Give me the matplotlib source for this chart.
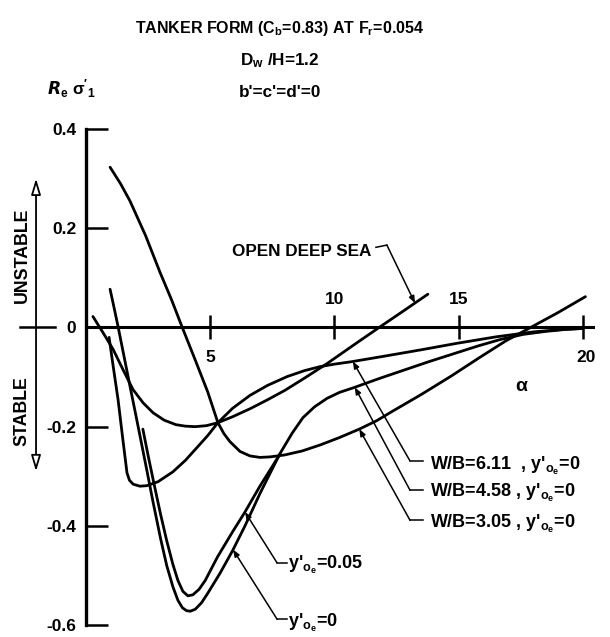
import matplotlib
matplotlib.use('Agg')
import matplotlib.pyplot as plt
import numpy as np

plt.rcParams['font.family'] = ['Liberation Sans', 'DejaVu Sans']
plt.rcParams['font.weight'] = 'bold'
plt.rcParams['font.size'] = 12.3
plt.rcParams['mathtext.default'] = 'regular'

# axis ticks
yticks = [0.4, 0.2, 0.0, -0.2, -0.4, -0.6]
ytick_labels = ['0.4', '0.2', '0', '-0.2', '-0.4', '-0.6']
xticks = [5, 10, 15, 20]
xtick_labels = ['5', '10', '15', '20']

# open deep sea
a_deep = [0.28, 0.68, 1.09, 1.5, 1.89, 2.3, 2.7, 3.15, 3.62, 4.0, 4.4, 4.85,
          5.31, 5.9, 6.6, 7.3, 8.0, 8.8, 9.7, 10.7, 11.8, 12.8, 13.76]
s_deep = [0.022, -0.010, -0.044, -0.086, -0.125, -0.152, -0.172, -0.187,
          -0.196, -0.199, -0.200, -0.198, -0.192, -0.180, -0.164, -0.146,
          -0.127, -0.102, -0.073, -0.038, 0.0, 0.034, 0.067]

# W/B = 6.11, y'oe = 0
a_611 = [0.93, 1.1, 1.29, 1.47, 1.65, 1.75, 1.9, 2.17, 2.45, 2.9, 3.5, 4.0,
         4.47, 4.9, 5.31, 5.9, 6.6, 7.3, 8.1, 8.8, 9.42, 10.0, 10.7, 12.0,
         13.5, 14.93, 16.5, 18.0, 19.2, 20.0]
s_611 = [-0.020, -0.080, -0.145, -0.220, -0.293, -0.308, -0.316, -0.320,
         -0.319, -0.311, -0.291, -0.268, -0.242, -0.218, -0.192, -0.163,
         -0.137, -0.117, -0.099, -0.087, -0.079, -0.074, -0.069, -0.058,
         -0.045, -0.032, -0.019, -0.009, -0.004, -0.002]

# W/B = 4.58, y'oe = 0
a_458 = [0.97, 1.13, 1.29, 1.53, 1.77, 2.0, 2.2, 2.45, 2.7, 3.0, 3.25, 3.5,
         3.7, 3.88, 4.05, 4.2, 4.4, 4.65, 4.9, 5.4, 5.9, 6.4, 7.0, 7.5, 7.8,
         8.3, 8.73, 9.2, 9.7, 10.2, 10.8, 11.8, 12.8, 13.8, 14.8, 15.8, 16.7,
         17.6, 18.5, 19.3, 20.0]
s_458 = [0.077, 0.040, 0.002, -0.058, -0.118, -0.175, -0.225, -0.288, -0.352,
         -0.425, -0.480, -0.523, -0.550, -0.565, -0.571, -0.572, -0.568,
         -0.555, -0.536, -0.495, -0.450, -0.400, -0.335, -0.285, -0.255,
         -0.213, -0.182, -0.160, -0.143, -0.131, -0.121, -0.103, -0.086,
         -0.069, -0.053, -0.037, -0.024, -0.014, -0.008, -0.004, -0.002]

# W/B = 4.58, y'oe = 0.05
a_458b = [2.29, 2.5, 2.75, 3.0, 3.25, 3.5, 3.7, 3.9, 4.1, 4.3, 4.55, 4.8,
          5.3, 5.9, 6.4, 7.0, 7.5, 7.8]
s_458b = [-0.205, -0.258, -0.318, -0.376, -0.430, -0.478, -0.510, -0.532,
          -0.541, -0.539, -0.528, -0.510, -0.462, -0.412, -0.372, -0.320,
          -0.280, -0.256]

# W/B = 3.05, y'oe = 0
a_305 = [0.97, 1.4, 1.77, 2.4, 2.98, 3.45, 3.86, 4.4, 4.9, 5.31, 5.55, 5.79,
         6.2, 6.6, 7.0, 7.4, 8.0, 8.7, 9.42, 10.2, 11.0, 11.7, 12.3, 13.5,
         14.7, 15.8, 16.9, 17.9, 19.0, 20.1]
s_305 = [0.323, 0.289, 0.255, 0.185, 0.111, 0.055, 0.002, -0.066, -0.130,
         -0.192, -0.214, -0.230, -0.250, -0.259, -0.262, -0.261, -0.257,
         -0.249, -0.237, -0.222, -0.205, -0.188, -0.170, -0.135, -0.098,
         -0.062, -0.027, 0.0, 0.030, 0.062]

fig = plt.figure(figsize=(6.1, 6.37), dpi=100)
ax = fig.add_axes([0, 0, 1, 1])
ax.set_xlim(-3.46, 21.09)
ax.set_ylim(-0.624, 0.660)

for s in ['top', 'right']:
    ax.spines[s].set_visible(False)
ax.spines['left'].set_position(('data', 0))
ax.spines['left'].set_bounds(-0.6, 0.4)
ax.spines['left'].set_linewidth(2.4)
ax.spines['bottom'].set_position(('data', 0))
ax.spines['bottom'].set_bounds(0, 20.4)
ax.spines['bottom'].set_linewidth(2.2)

ax.set_yticks(yticks, labels=ytick_labels)
ax.tick_params(axis='y', direction='in', length=15.8, width=1.8, pad=7,
               labelsize=12.5)
ax.set_xticks(xticks, labels=['' for t in xticks])
ax.tick_params(axis='x', direction='inout', length=17, width=1.8)

# x tick numbers sit above or below the axis
above = [False, True, True, False]
for t, lab, up in zip(xticks, xtick_labels, above):
    ax.text(t + (0.12 if t == 20 else 0), 0.0573 if up else -0.06, lab,
            ha='center', va='center', fontsize=12.5)
ax.text(17.5, -0.12, '\u03b1', ha='center', va='center', fontsize=14)

lw = 2.0
for a, s in [(a_deep, s_deep), (a_611, s_611), (a_458, s_458),
             (a_458b, s_458b), (a_305, s_305)]:
    ax.plot(a, s, color='black', lw=lw, solid_capstyle='round',
            solid_joinstyle='round')

# headings
ax.text(7.81, 0.593, 'TANKER FORM (C$_b$=0.83) AT F$_r$=0.054',
        ha='center', va='baseline', fontsize=11.5)
ax.text(7.81, 0.5286, 'D$_w$ /H=1.2', ha='center', va='baseline')
ax.text(7.81, 0.464, "b'=c'=d'=0", ha='center', va='baseline')
ax.text(-0.60, 0.470, r"$\mathit{R}_e$ $\sigma'_1$", ha='center',
        va='baseline')

# stability arrows on the left
arrow_kw = dict(arrowstyle='-|>,head_length=0.6,head_width=0.18', lw=1.3,
                fc='white', ec='black', mutation_scale=16,
                shrinkA=0, shrinkB=0)
ax.annotate('', xy=(-2.01, 0.30), xytext=(-2.01, 0.0), arrowprops=arrow_kw)
ax.annotate('', xy=(-2.01, -0.29), xytext=(-2.01, 0.0), arrowprops=arrow_kw)
ax.plot([-2.66, -1.25], [0, 0], color='black', lw=1.8)
ax.text(-2.56, 0.146, 'UNSTABLE', rotation=90, ha='center', va='center',
        fontsize=12.8)
ax.text(-2.58, -0.168, 'STABLE', rotation=90, ha='center', va='center',
        fontsize=12.8)

# labels with leader lines
lead_kw = dict(arrowstyle='-|>,head_length=0.5,head_width=0.2', lw=1.1,
               color='black', mutation_scale=8, shrinkA=0, shrinkB=0)


def leader(text, tx, ty, x0, x1, ly, xa, ca, sa):
    ya = np.interp(xa, ca, sa)
    ax.plot([x1, x0], [ly, ly], color='black', lw=1.1)
    ax.annotate('', xy=(xa, ya), xytext=(x0, ly), arrowprops=lead_kw)
    ax.text(tx, ty, text, ha='left', va='baseline', fontsize=13)


leader("W/B=6.11  , y$'_{o_e}$=0", 13.84, -0.287, 13.04, 13.56, -0.269,
       10.74, a_611, s_611)
leader("W/B=4.58 , y$'_{o_e}$=0", 13.84, -0.342, 13.04, 13.56, -0.328,
       10.82, a_458, s_458)
leader("W/B=3.05 , y$'_{o_e}$=0", 13.84, -0.4045, 13.04, 13.56, -0.3886,
       11.0, a_305, s_305)
leader("y$'_{o_e}$=0.05", 8.13, -0.4875, 7.69, 8.09, -0.4745,
       6.40, a_458b, s_458b)
leader("y$'_{o_e}$=0", 8.13, -0.6035, 7.69, 8.09, -0.588,
       5.92, a_458, s_458)

# open deep sea label, the leader hooks down from the end of the text
ax.text(5.88, 0.154, 'OPEN DEEP SEA', ha='left', va='center')
ya = np.interp(13.24, a_deep, s_deep)
ax.plot([11.67, 12.11], [0.1615, 0.166], color='black', lw=1.1)
ax.annotate('', xy=(13.24, ya), xytext=(12.11, 0.166), arrowprops=lead_kw)

fig.savefig('out.png', dpi=100)
